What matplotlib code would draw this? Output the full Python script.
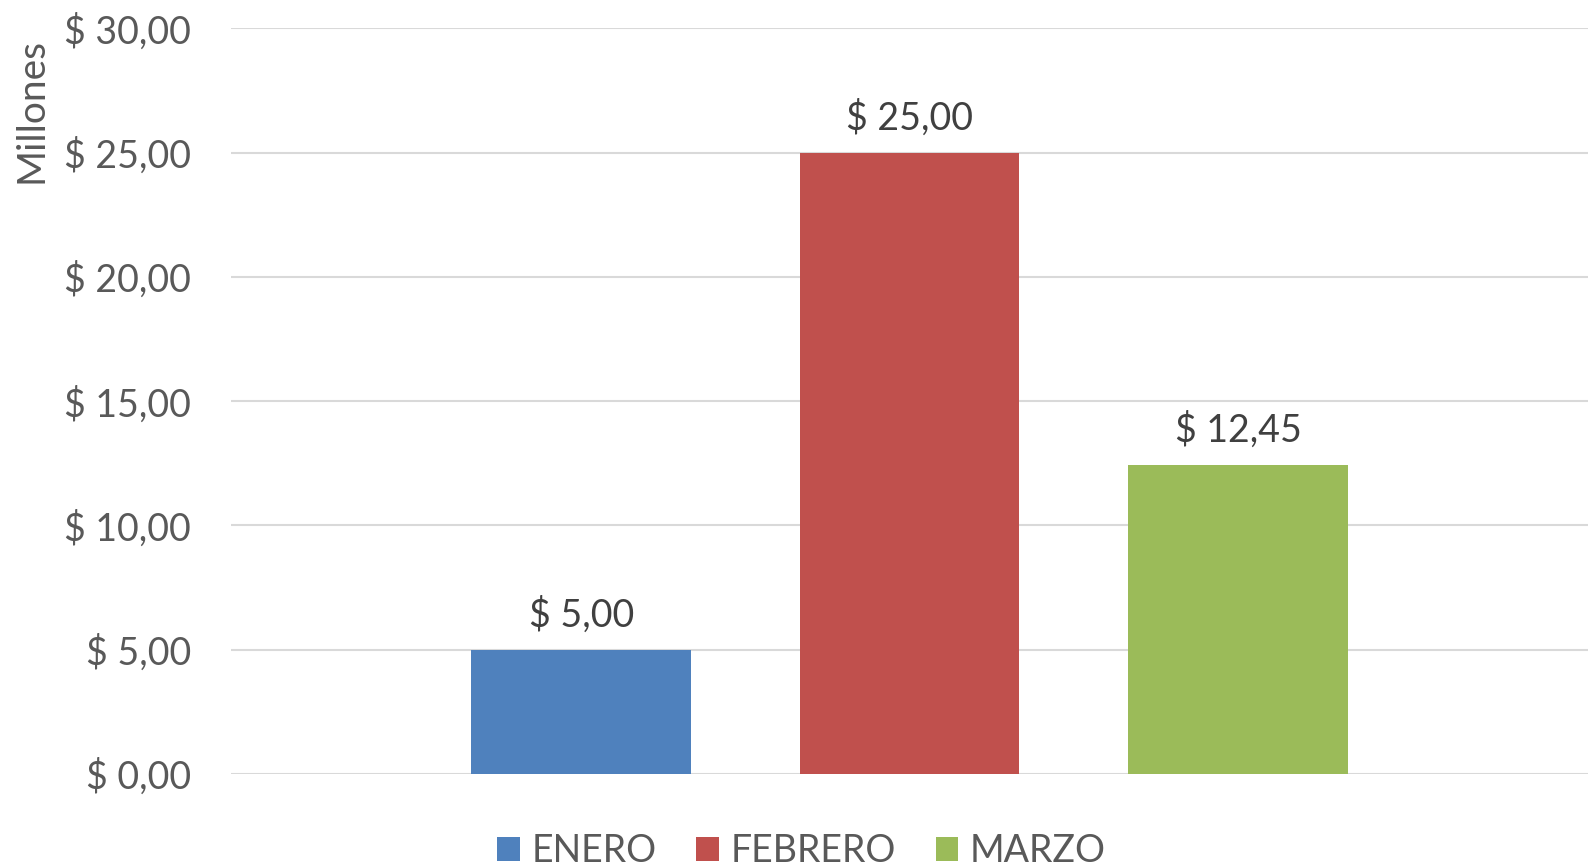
import matplotlib
matplotlib.use('Agg')
import matplotlib.pyplot as plt
from matplotlib.patches import Patch

meses = ['ENERO', 'FEBRERO', 'MARZO']
valores = [5.00, 25.00, 12.45]
colores = ['#4F81BD', '#C0504D', '#9BBB59']
yticks = [0, 5, 10, 15, 20, 25, 30]

plt.rcParams['font.family'] = ['Lato', 'DejaVu Sans']


def pesos(v):
    return '$ ' + f'{v:.2f}'.replace('.', ',')


fig = plt.figure(figsize=(15.89, 8.63), dpi=100)
ax = fig.add_axes([0.1454, 0.1031, 0.854, 0.864])

ancho = 0.162
desplaz = [-0.242, 0.0, 0.242]
for i, (m, v, c) in enumerate(zip(meses, valores, colores)):
    ax.bar(desplaz[i], v, width=ancho, color=c, zorder=3)
    ax.text(desplaz[i], v + 0.65, pesos(v), ha='center', va='bottom',
            fontsize=27, color='#404040')

ax.set_xlim(-0.5, 0.5)
ax.set_ylim(0, 30)
ax.set_yticks(yticks)
ax.set_yticklabels([pesos(t) for t in yticks], fontsize=27, color='#595959')
ax.set_xticks([])
ax.tick_params(axis='y', length=0, pad=29)
ax.grid(axis='y', color='#D9D9D9', linewidth=1.5, zorder=0)
for s in ax.spines.values():
    s.set_visible(False)

fig.text(0.02, 0.872, 'Millones', rotation=90, ha='center', va='center',
         fontsize=28, color='#595959')

# la leyenda queda cortada abajo, igual que en el original
handles = [Patch(facecolor=c) for c in colores]
fig.legend(handles, meses, loc='center', bbox_to_anchor=(0.5045, 0.014),
           ncol=3, frameon=False, fontsize=27, labelcolor='#595959',
           handlelength=0.6, handleheight=0.6, handletextpad=0.32,
           columnspacing=1.05, borderpad=0)

fig.savefig('out.png', dpi=100)
